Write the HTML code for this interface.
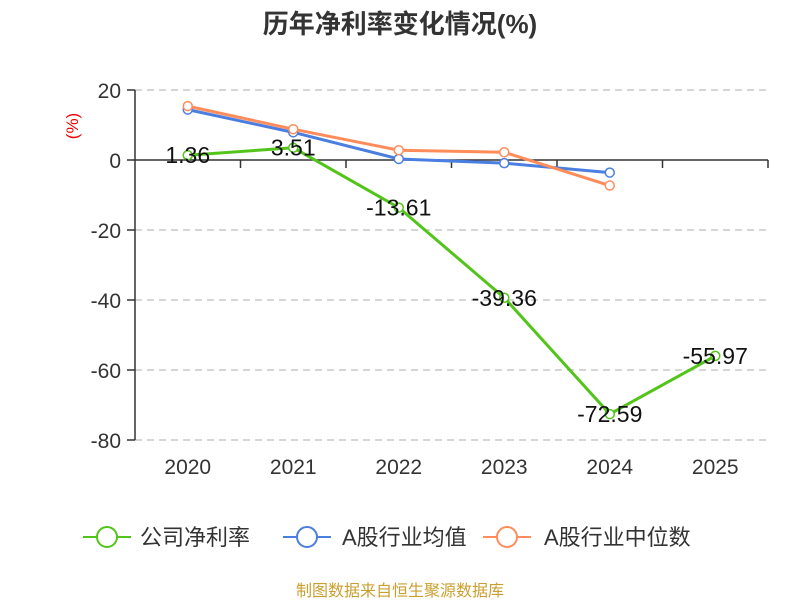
<!DOCTYPE html>
<html><head><meta charset="utf-8"><style>
body{margin:0;background:#fff;}
svg{font-family:"Liberation Sans","Noto Sans CJK SC",sans-serif;}
</style></head><body>
<svg id="chart" width="800" height="600">
<text x="400" y="33" text-anchor="middle" font-size="26" font-weight="bold" fill="#333">历年净利率变化情况(%)</text>
<text transform="translate(78,126) rotate(-90)" text-anchor="middle" font-size="17" fill="#e00">(%)</text>
<g id="grid"></g><g id="axes"></g><g id="series"></g>
<g>
 <g><line x1="83" y1="537" x2="131" y2="537" stroke="#52c41a" stroke-width="2"/><circle cx="107" cy="537" r="10" fill="#fff" stroke="#52c41a" stroke-width="2"/><text x="140" y="545" font-size="22" fill="#333">公司净利率</text></g>
 <g><line x1="283" y1="537" x2="331" y2="537" stroke="#4a7ee0" stroke-width="2"/><circle cx="307" cy="537" r="10" fill="#fff" stroke="#4a7ee0" stroke-width="2"/><text x="342" y="545" font-size="22" fill="#333">A股行业均值</text></g>
 <g><line x1="483" y1="537" x2="531" y2="537" stroke="#ff8c5a" stroke-width="2"/><circle cx="507" cy="537" r="10" fill="#fff" stroke="#ff8c5a" stroke-width="2"/><text x="544" y="545" font-size="22" fill="#333">A股行业中位数</text></g>
</g>
<text x="400" y="596" text-anchor="middle" font-size="16" fill="#c9a030">制图数据来自恒生聚源数据库</text>
</svg>
<script>
const categories=["2020","2021","2022","2023","2024","2025"];
const companyValues=[1.36,3.51,-13.61,-39.36,-72.59,-55.97];
const industryAvg=[14.4,7.9,0.3,-0.9,-3.6];
const industryMedian=[15.4,8.8,2.8,2.2,-7.3];
const yTicks=[20,0,-20,-40,-60,-80];
const NS="http://www.w3.org/2000/svg";
const L=135,R=768,yMax=20,yMin=-80,T=90,B=440;
const band=(R-L)/categories.length;
const xS=i=>L+band*(i+0.5);
const yS=v=>T+(yMax-v)/(yMax-yMin)*(B-T);
function mk(tag,attrs,parent,text){const e=document.createElementNS(NS,tag);for(const k in attrs)e.setAttribute(k,attrs[k]);if(text!==undefined)e.textContent=text;parent.appendChild(e);return e;}
const grid=document.getElementById('grid'),axes=document.getElementById('axes'),ser=document.getElementById('series');
yTicks.forEach(t=>{
 if(t!==0){const g=mk('line',{x1:L,x2:R,y1:yS(t),y2:yS(t),stroke:'#c8c8c8','stroke-dasharray':'7,5','stroke-width':1.5},grid);
 
 }
 const tl=mk('line',{x1:L-8,x2:L,y1:yS(t),y2:yS(t),stroke:'#333','stroke-width':1.5},axes);
 
 
 const lb=mk('text',{x:L-14,y:yS(t)+8,'text-anchor':'end','font-size':21,fill:'#333'},axes,String(t));
 
 
});
const ya=mk('line',{x1:L,x2:L,y1:T,y2:B,stroke:'#333','stroke-width':1.5},axes);


const xa=mk('line',{x1:L,x2:R,y1:yS(0),y2:yS(0),stroke:'#333','stroke-width':1.5},axes);


categories.forEach((c,i)=>{
 const tk=mk('line',{x1:L+band*(i+1),x2:L+band*(i+1),y1:yS(0),y2:yS(0)+8,stroke:'#333','stroke-width':1.5},axes);
 
 
 const lb=mk('text',{x:xS(i),y:474,'text-anchor':'middle','font-size':21,fill:'#333'},axes,c);
 
 
});
function drawSeries(vals,color,name,labels){
 const pts=vals.map((v,i)=>xS(i)+','+yS(v)).join(' ');
 const pl=mk('polyline',{points:pts,fill:'none',stroke:color,'stroke-width':3,'stroke-linejoin':'round'},ser);
 
 
 vals.forEach((v,i)=>{
  const c=mk('circle',{cx:xS(i),cy:yS(v),r:4.5,fill:'#fff',stroke:color,'stroke-width':1.5},ser);
  
  
  if(labels){const t=mk('text',{x:xS(i),y:yS(v)+8,'text-anchor':'middle','font-size':23,fill:'#111'},ser,v.toFixed(2));
  
  }
 });
}
drawSeries(industryAvg,'#4a7ee0','industry-avg',false);
drawSeries(industryMedian,'#ff8c5a','industry-median',false);
drawSeries(companyValues,'#52c41a','company',true);
</script>
</body></html>
